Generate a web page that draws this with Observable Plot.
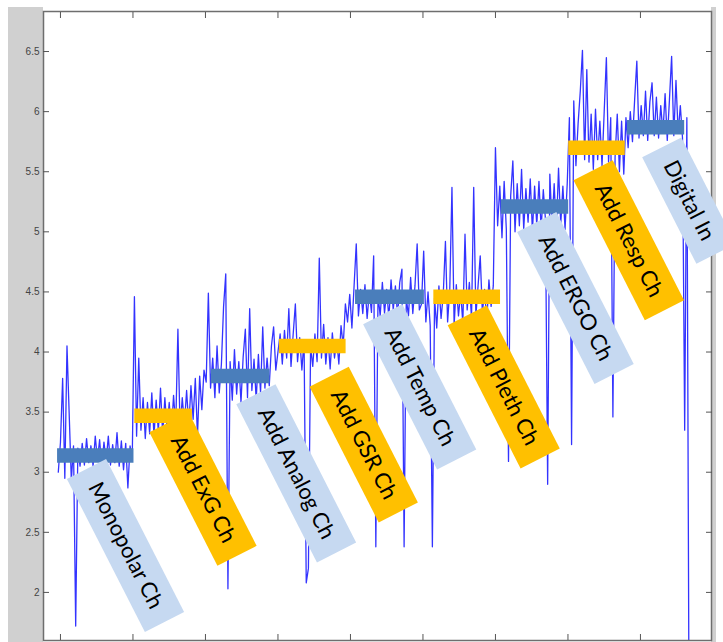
<!DOCTYPE html>
<html><head><meta charset="utf-8">
<script src="https://cdn.jsdelivr.net/npm/d3@7"></script>
<script src="https://cdn.jsdelivr.net/npm/@observablehq/plot@0.6"></script>
<style>
body{margin:0;background:#fff;}
#chart{width:723px;height:642px;position:relative;overflow:hidden;
 background: linear-gradient(#fff,#fff) top left/100% 7px no-repeat,
 linear-gradient(to right,#fff 8px,#d0d0d0 8px,#d0d0d0 43px,#fff 43px,#fff 711px,#d0d0d0 711px,#d0d0d0 716px,#fff 716px);}
</style></head><body><div id="chart"></div>
<script>
// ---- data ----
const xTicks = [0, 10, 20, 30, 40, 50, 60, 70, 80];
const yTicks = [2, 2.5, 3, 3.5, 4, 4.5, 5, 5.5, 6, 6.5];
const stepNames = ["Monopolar Ch", "Add ExG Ch", "Add Analog Ch", "Add GSR Ch", "Add Temp Ch", "Add Pleth Ch", "Add ERGO Ch", "Add Resp Ch", "Digital In"];
const stepStart = [-0.4, 10.25, 20.8, 30.2, 40.7, 51.5, 60.8, 70.1, 78.2];
const stepEnd = [10.14, 18.2, 28.9, 39.4, 50.2, 60.7, 70.1, 77.9, 86.1];
const stepLevel = [3.14, 3.47, 3.80, 4.05, 4.46, 4.46, 5.21, 5.70, 5.87];
const labelX = [8.97, 19.66, 32.52, 41.83, 49.55, 61.14, 71.03, 78.39, 86.68];
const labelY = [2.39, 2.86, 2.99, 3.23, 3.71, 3.71, 4.45, 4.93, 5.26];
const signalT0 = -0.3, signalDt = 0.3;
const signal = [
 3.00,3.25,3.78,2.95,4.05,3.49,2.93,3.22,1.72,3.20,3.05,3.24,3.06,3.28,3.08,3.22,3.05,3.30,3.10,3.27,3.04,3.25,3.09,3.30,3.06,3.23,3.08,3.33,3.05,3.26,3.02,3.24,2.87,3.22,3.10,
 4.46,3.30,3.95,3.35,3.62,3.28,3.58,3.32,3.66,3.30,3.60,3.34,3.70,3.31,3.62,3.36,3.58,3.33,3.64,3.38,4.19,3.35,3.62,3.40,3.68,3.38,3.72,3.44,3.78,3.30,3.80,3.52,3.85,
 3.75,4.49,3.70,3.95,3.62,4.05,3.66,3.90,4.38,4.65,2.03,3.92,3.60,4.02,3.65,3.92,3.58,3.96,4.19,3.62,4.36,3.68,3.94,3.60,3.98,3.66,4.21,3.70,3.95,3.72,4.05,4.21,3.85,
 4.00,4.15,3.90,4.18,3.95,4.36,3.88,4.15,4.40,3.92,4.12,3.85,4.10,2.08,2.20,4.05,3.88,4.15,3.92,4.78,3.95,4.23,3.90,4.12,3.86,4.16,3.95,4.10,3.90,4.22,4.05,4.40,4.25,
 4.48,4.20,4.55,4.90,4.30,4.52,4.32,4.56,4.28,4.50,4.33,4.80,2.38,4.48,4.30,4.58,4.32,4.52,4.28,4.60,4.35,4.55,4.30,4.58,4.69,2.38,4.45,4.30,4.62,4.32,4.55,4.90,4.35,
 4.40,4.84,4.25,4.50,4.22,2.38,4.45,4.20,4.55,4.28,4.48,4.92,4.25,4.52,5.37,4.22,4.56,4.30,4.50,4.24,4.98,4.35,4.58,4.28,5.37,4.30,4.55,4.80,4.32,4.52,4.25,4.60,4.38,4.55,
 5.70,5.05,5.38,4.95,5.42,5.02,3.09,5.30,5.59,5.00,5.40,5.05,5.52,5.02,5.36,5.08,5.44,5.00,5.38,5.05,5.42,5.02,5.35,5.10,2.90,5.48,5.05,5.40,5.00,5.53,5.06,5.38,5.02,
 5.40,5.95,3.23,6.09,5.55,5.90,6.17,6.51,5.60,6.35,5.58,5.98,5.52,6.02,5.60,5.92,5.55,6.00,6.45,5.58,5.95,3.46,5.62,5.98,5.50,5.92,5.48,5.95,
 5.70,6.00,5.75,6.10,6.42,5.78,6.05,5.80,6.17,5.76,6.08,6.24,5.80,6.12,5.78,6.05,5.82,6.15,5.76,6.10,6.46,5.80,6.26,5.82,6.05,5.78,3.35,5.95,1.00
];

// ---- styles ----
const barColors = ["#4a7ebb", "#ffc000"];
const boxColors = ["#c6d9f1", "#ffc000"];
const labelFont = "Lato";
const labelSize = 22;
const angle = 63;

const ctx = document.createElement("canvas").getContext("2d");
ctx.font = `${labelSize}px ${labelFont}`;
const boxLen = stepNames.map(s => ctx.measureText(s).width + 33);

const idx = d3.range(stepNames.length);

const chart = Plot.plot({
  width: 723,
  height: 642,
  marginLeft: 43,
  marginRight: 12,
  marginTop: 11,
  marginBottom: 2,
  style: "background: transparent; overflow: hidden;",
  x: {domain: [-2.34, 89.8], axis: null},
  y: {domain: [1.6, 6.833], axis: null},
  color: {type: "identity"},
  marks: [
    Plot.line(signal, {x: (d, i) => signalT0 + i * signalDt, y: d => d, stroke: "#0000ff", strokeWidth: 1.3, strokeOpacity: 0.8, clip: true}),
    Plot.ruleY(idx, {y: i => stepLevel[i], x1: i => stepStart[i], x2: i => stepEnd[i], stroke: i => barColors[i % 2], strokeWidth: 14.5}),
    Plot.frame({stroke: "#6e6e6e", strokeWidth: 1.5}),
    Plot.axisY(yTicks, {anchor: "left", tickSize: -6, tickPadding: 10, tickFormat: d => String(d), fontSize: 10, fontFamily: "Liberation Sans, Arial, sans-serif", fill: "#444", stroke: "#555", label: null}),
    Plot.axisY(yTicks, {anchor: "right", tickSize: -6, tickFormat: () => "", stroke: "#555", label: null}),
    Plot.axisX(xTicks, {anchor: "bottom", tickSize: -6, tickFormat: () => "", stroke: "#555", label: null}),
    Plot.axisX(xTicks, {anchor: "top", tickSize: -6, tickFormat: () => "", stroke: "#555", label: null}),
    ...idx.map(i => Plot.vector([i], {x: () => labelX[i], y: () => labelY[i], length: boxLen[i], rotate: angle + 90, anchor: "middle", r: 0, stroke: boxColors[i % 2], strokeWidth: 44, strokeLinecap: "butt"})),
    Plot.text(idx, {x: i => labelX[i], y: i => labelY[i], text: i => stepNames[i], rotate: angle, fontSize: labelSize, fontFamily: labelFont, fill: "#000"})
  ]
});
document.getElementById("chart").appendChild(chart);
</script>
</body></html>
